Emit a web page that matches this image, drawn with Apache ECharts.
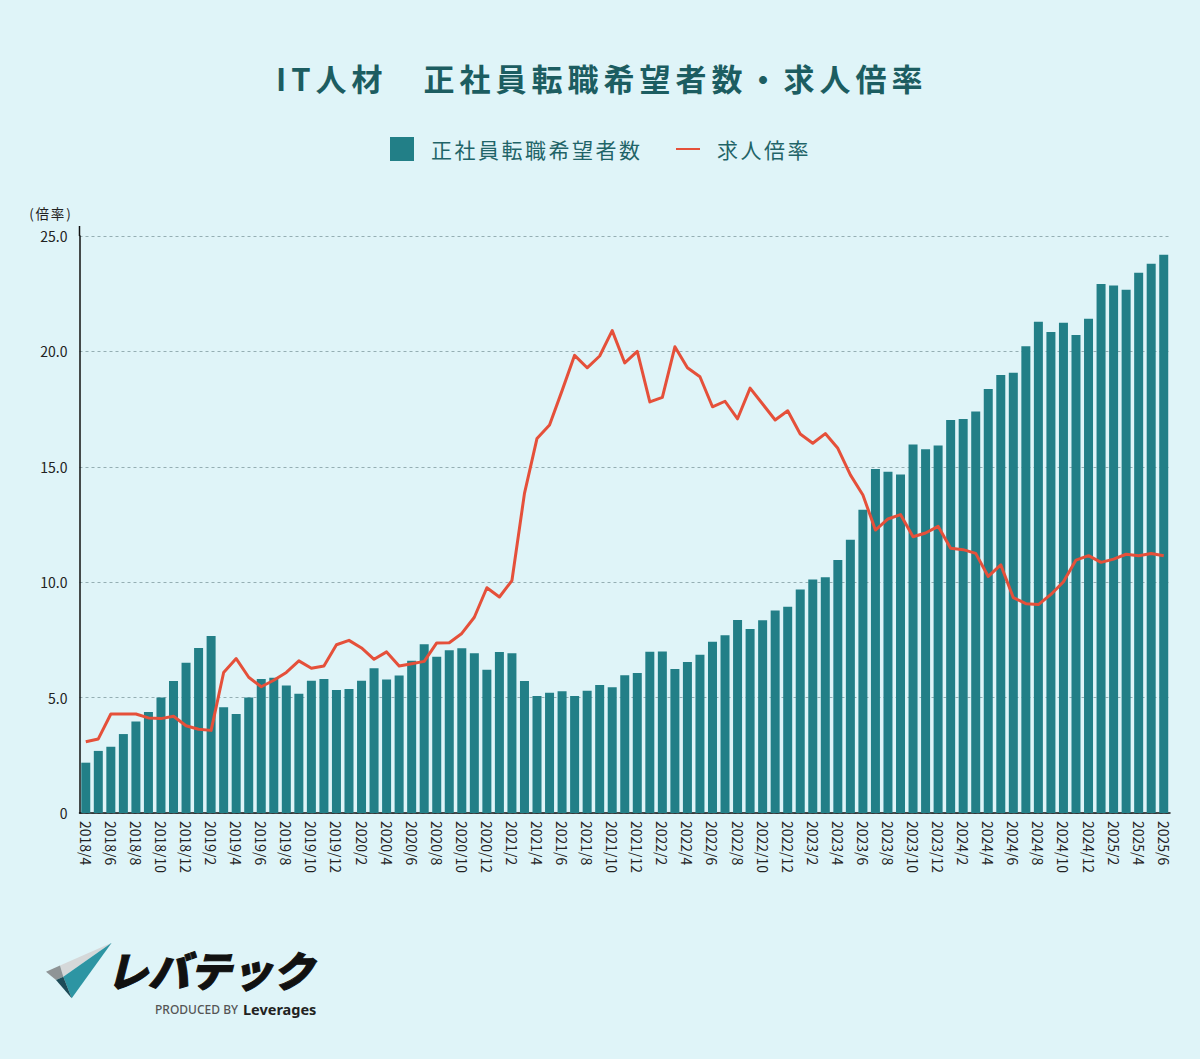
<!DOCTYPE html>
<html lang="ja">
<head>
<meta charset="UTF-8">
<title>IT人材 正社員転職希望者数・求人倍率</title>
<script src="https://cdnjs.cloudflare.com/ajax/libs/echarts/6.0.0/echarts.min.js"></script>
<style>
  html, body { margin: 0; padding: 0; background: #dff4f8; }
  #chart { width: 1200px; height: 1059px; }
  /* echarts has no letter spacing option, the svg text takes it from css */
  #chart text[style*="31px"] { letter-spacing: 5px; }
  #chart text[style*="21px"] { letter-spacing: 2.5px; }
  #chart text[style*="13.5px"] { letter-spacing: 1.8px; }
</style>
</head>
<body>
<div id="chart"></div>
<script>
// 2018/4 - 2025/6
var months = [
  "2018/4","2018/5","2018/6","2018/7","2018/8","2018/9","2018/10","2018/11","2018/12",
  "2019/1","2019/2","2019/3","2019/4","2019/5","2019/6","2019/7","2019/8","2019/9","2019/10","2019/11","2019/12",
  "2020/1","2020/2","2020/3","2020/4","2020/5","2020/6","2020/7","2020/8","2020/9","2020/10","2020/11","2020/12",
  "2021/1","2021/2","2021/3","2021/4","2021/5","2021/6","2021/7","2021/8","2021/9","2021/10","2021/11","2021/12",
  "2022/1","2022/2","2022/3","2022/4","2022/5","2022/6","2022/7","2022/8","2022/9","2022/10","2022/11","2022/12",
  "2023/1","2023/2","2023/3","2023/4","2023/5","2023/6","2023/7","2023/8","2023/9","2023/10","2023/11","2023/12",
  "2024/1","2024/2","2024/3","2024/4","2024/5","2024/6","2024/7","2024/8","2024/9","2024/10","2024/11","2024/12",
  "2025/1","2025/2","2025/3","2025/4","2025/5","2025/6"
];
var applicants = [
  2.18,2.69,2.87,3.42,3.96,4.38,5.00,5.72,6.51,
  7.15,7.67,4.58,4.29,5.00,5.81,5.86,5.52,5.17,5.73,5.81,5.33,
  5.37,5.73,6.27,5.78,5.96,6.60,7.31,6.77,7.05,7.14,6.92,6.21,
  6.98,6.92,5.72,5.07,5.21,5.27,5.07,5.30,5.55,5.45,5.97,6.07,
  6.99,7.00,6.24,6.54,6.86,7.42,7.70,8.36,7.97,8.35,8.77,8.94,
  9.68,10.12,10.21,10.96,11.84,13.14,14.90,14.79,14.67,15.97,15.76,15.92,
  17.03,17.07,17.40,18.37,18.98,19.08,20.22,21.29,20.84,21.24,20.71,21.42,
  22.92,22.85,22.67,23.41,23.80,24.19
];
var ratio = [
  3.09,3.21,4.29,4.29,4.29,4.12,4.09,4.19,3.78,
  3.63,3.58,6.09,6.69,5.88,5.47,5.75,6.09,6.59,6.27,6.37,7.29,
  7.48,7.15,6.66,6.98,6.37,6.47,6.57,7.37,7.38,7.78,8.48,9.76,
  9.36,10.07,13.85,16.23,16.81,18.30,19.83,19.29,19.80,20.90,19.50,20.00,
  17.81,18.01,20.20,19.29,18.90,17.60,17.84,17.08,18.41,17.72,17.03,17.43,
  16.42,16.02,16.44,15.80,14.65,13.78,12.26,12.74,12.93,11.97,12.13,12.42,
  11.47,11.41,11.25,10.25,10.75,9.33,9.07,9.03,9.47,10.02,10.96,11.15,
  10.86,11.00,11.21,11.15,11.24,11.15
];
var barName = "正社員転職希望者数";
var lineName = "求人倍率";
var font = "'Noto Sans CJK JP', 'Noto Sans', sans-serif";

var myChart = echarts.init(document.getElementById("chart"), null, { renderer: "svg" });

var option = {
  backgroundColor: "#dff4f8",
  animation: false,
  textStyle: { fontFamily: font },
  title: {
    text: "IT人材　正社員転職希望者数・求人倍率",
    left: 271,
    top: 57,
    textStyle: { fontFamily: font, fontSize: 31, fontWeight: 700, color: "#1c5d61" }
  },
  legend: {
    left: 390,
    top: 137,
    padding: 0,
    itemWidth: 24,
    itemHeight: 24,
    itemGap: 55,
    data: [
      { name: barName, icon: "rect" },
      // line only, the legend would put a circle on it otherwise
      { name: lineName, itemStyle: { color: "transparent", borderWidth: 0 } }
    ],
    textStyle: { fontFamily: font, fontSize: 21, color: "#1f6468", padding: [0, 0, 0, 12] }
  },
  grid: { left: 79.5, right: 30, top: 236, bottom: 246 },
  xAxis: {
    type: "category",
    data: months,
    axisLine: { lineStyle: { color: "#111", width: 1.5 } },
    axisTick: { show: false },
    axisLabel: {
      interval: 1,
      rotate: -90,
      margin: 8,
      fontFamily: font,
      fontSize: 14,
      color: "#222"
    }
  },
  yAxis: {
    type: "value",
    min: 0,
    max: 25,
    interval: 5,
    name: "(倍率)",
    nameGap: 16,
    nameTextStyle: { fontFamily: font, fontSize: 13.5, color: "#222", align: "right", padding: [0, 7, 0, 0] },
    axisLine: { show: true, lineStyle: { color: "#111", width: 1.5 } },
    axisTick: { show: false },
    axisLabel: {
      margin: 12,
      fontFamily: font,
      fontSize: 14,
      color: "#222",
      formatter: function (v) { return v === 0 ? "0" : v.toFixed(1); }
    },
    splitLine: { lineStyle: { color: "#94aeb3", width: 1, type: [3, 3] } }
  },
  series: [
    {
      name: barName,
      type: "bar",
      data: applicants,
      barWidth: 9,
      itemStyle: { color: "#227f87" },
      z: 2
    },
    {
      name: lineName,
      type: "line",
      data: ratio,
      symbol: "none",
      lineStyle: { color: "#e5503a", width: 3, join: "round" },
      itemStyle: { color: "#e5503a" },
      z: 3
    }
  ],
  graphic: [
    // y axis runs a little past 25.0
    { type: "line", shape: { x1: 79.5, y1: 226, x2: 79.5, y2: 236 }, style: { stroke: "#111", lineWidth: 1.5 } },
    // logo
    { type: "polygon", shape: { points: [[111.7, 942.7], [60, 965.5], [63.3, 976.7]] }, style: { fill: "#d5d8d9" } },
    { type: "polygon", shape: { points: [[46, 971.7], [60, 965.5], [63.3, 976.7], [56, 980]] }, style: { fill: "#8f9496" } },
    { type: "polygon", shape: { points: [[111.7, 942.7], [63.3, 976.7], [71.7, 998.3]] }, style: { fill: "#2d95a3" } },
    { type: "polygon", shape: { points: [[56, 980], [63.3, 976.7], [71.7, 998.3]] }, style: { fill: "#1d4b57" } },
    { type: "text", left: 106, top: 948, style: { text: "レバテック", font: "italic 900 41.5px " + font, fill: "#111", stroke: "#111", lineWidth: 1 } },
    { type: "text", left: 155, top: 1003, style: { text: "PRODUCED BY", font: "500 12px 'Noto Sans', sans-serif", fill: "#555" } },
    { type: "text", left: 243, top: 1001, style: { text: "Leverages", font: "700 14.5px 'Noto Sans', sans-serif", fill: "#222" } }
  ]
};

myChart.setOption(option);
</script>
</body>
</html>
